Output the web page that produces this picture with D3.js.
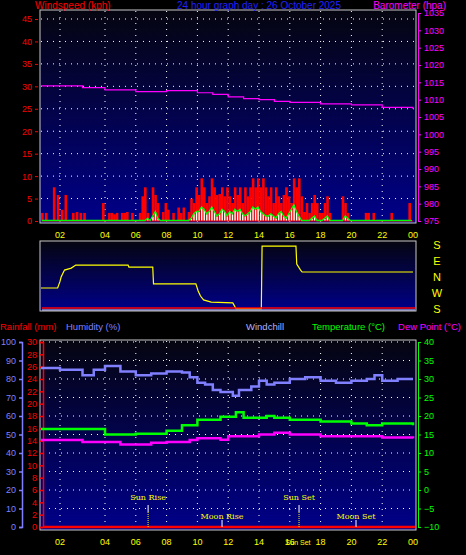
<!DOCTYPE html>
<html><head><meta charset="utf-8">
<script src="https://cdn.jsdelivr.net/npm/d3@7"></script>
<style>body{margin:0;background:#000}svg{display:block;font-family:"Liberation Sans",sans-serif}</style>
</head><body><svg id="c" width="466" height="555"></svg>
<script>
// hour ticks along the bottom
const tickHours = [2,4,6,8,10,12,14,16,18,20,22,24]
const tickLabels = ["02","04","06","08","10","12","14","16","18","20","22","00"]

// wind, 10 minute samples from 01:12
const gust = [1.8,1.8,0,7.5,5.8,
  2.5,5.8,0,1.8,2,1.8,1.8,0,0,0,0,4,
  0,1.8,1.8,1.5,1.8,0,1.8,1.8,2,0,1.8,0,
  0,1.8,5.5,7.5,1.8,0,7.5,5.8,4,0,2,4,
  2.5,0,1.8,0,3,1.8,3,0,2,5,4,7.5,
  5.8,9.5,7.5,4,5.5,9.5,7.5,5.8,6,7.5,5.5,7.5,
  5.5,4,7.5,5.8,7.5,4,7.5,5.5,7.5,9.5,7.5,9.5,
  7.5,9.5,7.5,5.5,7.5,4,7.5,5.5,4,5.8,7.5,5.5,
  4,9.5,7.5,9.5,5.5,2,4,1.8,4,5.8,4,1.8,
  1.8,4,5.5,1.8,0,0,0,0,5.5,4,1.8,0,
  0,0,0,0,0,1.8,1.8,0,1.8,0,0,0,
  0,0,0,1.8,0,0,0,0,0,0,4,0]
const avgSpeed = [0,0,0,0,0,
  0,0,0,0,0,0,0,0,0,0,0,0,
  0,0,0,0,0,0,0,0,0,0,0,0,
  0,0,0,0,0.5,0,1,2,0.5,0,0,0,
  0,0,0,0,0,0,0,0,0,0.5,1.5,2,
  2,3,2.5,1.5,2,3,2,1,1.5,2.5,2,1,
  2,1.5,2.5,2,2.5,1.5,1,1.5,2,3,2.5,3,
  2,1.5,1,1,1.5,1,0.5,1.5,2,1,0.5,1.5,
  2.5,3.5,2,1,0,0,0,0,0.5,1,0,0,
  0,0.5,1,0,0,0,0,0,0,1,0.5,0,
  0,0,0,0,0,0,0,0,0,0,0,0,
  0,0,0,0,0,0,0,0,0,0,0,0]

const baroHours = [1.2,2,3,4,6,8,10,11,12,13,14,15,16,18,20,22,24]
const baro = [1014,1014,1013.5,1012.8,1012.3,1012.6,1012,1011.5,1010.8,1010.3,1010,1009.5,1009.2,1008.8,1008.5,1007.8,1007.3]

// wind direction, plotted on the S-E-N-W-S scale (180 .. -180)
const dirHours = [1.2,1.9,2.0,2.05,2.2,2.5,2.7,5.5,5.55,7.1,7.15,9.9,10.05,10.2,10.4,10.9,12.3,12.5,14.15,14.2,16.4,16.45,16.7,16.8,24]
const dirVals = [-62,-62,-25,0,39,50,67,67,56,56,-39,-39,-79,-107,-129,-141,-146,-178,-178,174,174,73,39,28,28]

const humHours = [1.2,2,3,3.5,4,5,6,7,8,9,9.5,10,10.5,11,11.5,12.3,12.7,13.5,14,14.5,15,16,17,18,19,20,21,21.5,22,23,24]
const humidity = [86,85,82,85,87,84,82,83,84,83.5,81,78,77,74,73,71,74,76,79,77,78,80,81,79,78,79,80,82,79,80,80]
const tempHours = [1.2,4,6,8,9,10,11.5,12.5,13,14.5,15,16,18,20,21,22,24]
const temperature = [16.5,15,15.2,16,17.5,19,19.8,21,19.5,20,19.5,19,18.5,18,17.5,18,17.5]
const dewHours = [1.2,3,5,6,7,8,9.5,10,11.5,12,14,15,16,18,20,22,24]
const dewPoint = [13.5,13,12.3,12.3,12.8,13,13.5,14,13.6,14.5,15,15.5,15,14.5,14.5,14.2,14]

const events = [["Sun Rise",6.8,0],["Moon Rise",11.6,1],["Sun Set",16.6,0],["Moon Set",20.3,1]]

const svg = d3.select("#c")
const x = d3.scaleLinear().domain([1.2,2,4,24]).range([41,60,105,413])
const sampleHour = i => 1.2 + i/6

const grad = svg.append("defs").append("linearGradient").attr("id","bg").attr("x1",0).attr("x2",0).attr("y1",0).attr("y2",1)
grad.append("stop").attr("offset","0%").attr("stop-color","#050510")
grad.append("stop").attr("offset","100%").attr("stop-color","#00008a")

function panel(top, bottom) {
  svg.append("rect").attr("x",40).attr("y",top).attr("width",376).attr("height",bottom-top)
    .attr("fill","url(#bg)").attr("stroke","#c8c8c8").attr("stroke-width",1)
}
function vgrid(top, bottom) {
  svg.append("g").selectAll("line").data(tickHours.slice(0,-1)).join("line")
    .attr("x1",d=>x(d)).attr("x2",d=>x(d)).attr("y1",top).attr("y2",bottom)
    .attr("stroke","#fff").attr("stroke-dasharray","1 5")
}
function xlabels(y) {
  svg.append("g").selectAll("text").data(tickHours).join("text")
    .attr("x",d=>x(d)).attr("y",y).attr("text-anchor","middle")
    .attr("fill","#ffff00").attr("font-size",9).text((d,i)=>tickLabels[i])
}
function styleAxis(g, col, w) {
  g.selectAll(".domain,line").attr("stroke",col).attr("stroke-width",w||1)
  g.selectAll("text").attr("fill",col).attr("font-size",9).attr("font-family","Liberation Sans")
}

// ---- top panel
panel(10,223)
const ws = d3.scaleLinear().domain([0,45]).range([221,19])
const bs = d3.scaleLinear().domain([975,1035]).range([221,13])
svg.append("g").selectAll("line").data(d3.range(5,50,5)).join("line")
  .attr("x1",41).attr("x2",415).attr("y1",d=>ws(d)).attr("y2",d=>ws(d))
  .attr("stroke","#fff").attr("stroke-dasharray","1 5")
vgrid(11,222)
svg.append("g").attr("transform","translate(38,0)")
  .call(d3.axisLeft(ws).tickValues(d3.range(0,50,5)).tickSize(3))
  .call(g=>{styleAxis(g,"red");g.select(".domain").remove()})
svg.append("g").attr("transform","translate(418,0)")
  .call(d3.axisRight(bs).tickValues(d3.range(975,1040,5)).tickFormat(d3.format("d")).tickSize(3))
  .call(g=>styleAxis(g,"#ff00ff"))
svg.append("g").selectAll("rect").data(gust).join("rect")
  .attr("x",(d,i)=>x(sampleHour(i))).attr("width",2.6)
  .attr("y",d=>ws(d)).attr("height",d=>ws(0)-ws(d)).attr("fill","red")
svg.append("g").selectAll("rect").data(avgSpeed).join("rect")
  .attr("x",(d,i)=>x(sampleHour(i))+0.5).attr("width",1.4)
  .attr("y",d=>ws(d)).attr("height",d=>ws(0)-ws(d)).attr("fill","#f0fff0")
svg.append("line").attr("x1",41).attr("x2",413).attr("y1",ws(0)).attr("y2",ws(0)).attr("stroke","red")
svg.append("path").datum(avgSpeed).attr("fill","none").attr("stroke","#00ff00").attr("stroke-width",1.3)
  .attr("d",d3.line().x((d,i)=>x(sampleHour(i))+1).y(d=>ws(d)-0.5))
svg.append("path").datum(baro).attr("fill","none").attr("stroke","#ff00ff").attr("stroke-width",1.2)
  .attr("d",d3.line().x((d,i)=>x(baroHours[i])).y(d=>bs(d)).curve(d3.curveStepAfter))
svg.append("text").attr("x",35).attr("y",9).attr("fill","red").attr("font-size",10).text("Windspeed (kph)")
svg.append("text").attr("x",259).attr("y",9).attr("text-anchor","middle").attr("fill","#2020ff").attr("font-size",10).text("24 hour graph day : 26 October 2025")
svg.append("text").attr("x",446).attr("y",9).attr("text-anchor","end").attr("fill","#ff00ff").attr("font-size",10).text("Barometer (hpa)")
xlabels(238)

// ---- wind direction panel
panel(241,311)
const ds = d3.scaleLinear().domain([180,-180]).range([245,309])
svg.append("path").datum(dirVals).attr("fill","none").attr("stroke","#ffff00").attr("stroke-width",1.2)
  .attr("d",d3.line().x((d,i)=>x(dirHours[i])).y(d=>ds(d)))
svg.append("line").attr("x1",42).attr("x2",415).attr("y1",308).attr("y2",308).attr("stroke","red").attr("stroke-width",1.5)
svg.append("line").attr("x1",42).attr("x2",415).attr("y1",310).attr("y2",310).attr("stroke","#ddd")
svg.append("g").selectAll("text").data(["S","E","N","W","S"]).join("text")
  .attr("x",437).attr("y",(d,i)=>ds(180-i*90)+4).attr("text-anchor","middle")
  .attr("fill","#ffff00").attr("font-size",11).text(d=>d)

// ---- bottom panel
svg.append("text").attr("x",0).attr("y",330).attr("fill","red").attr("font-size",9.5).text("Rainfall (mm)")
svg.append("text").attr("x",66).attr("y",330).attr("fill","#8080ff").attr("font-size",9.5).text("Humidity (%)")
svg.append("text").attr("x",246).attr("y",330).attr("fill","#b0b0ff").attr("font-size",9.5).text("Windchill")
svg.append("text").attr("x",312).attr("y",330).attr("fill","#00ff00").attr("font-size",9.5).text("Temperature (°C)")
svg.append("text").attr("x",461).attr("y",330).attr("text-anchor","end").attr("fill","#ff00ff").attr("font-size",9.5).text("Dew Point (°C)")
panel(340,530)
const hs = d3.scaleLinear().domain([0,100]).range([527,342])
const rs = d3.scaleLinear().domain([0,30]).range([527,342])
const ts = d3.scaleLinear().domain([-10,40]).range([527,342])
svg.append("g").selectAll("line").data(d3.range(10,110,10)).join("line")
  .attr("x1",43).attr("x2",415).attr("y1",d=>hs(d)).attr("y2",d=>hs(d))
  .attr("stroke","#fff").attr("stroke-dasharray","1 5")
vgrid(341,529)
svg.append("g").attr("transform","translate(22,0)")
  .call(d3.axisLeft(hs).tickValues(d3.range(0,110,10)).tickSize(3))
  .call(g=>styleAxis(g,"#8080ff",1.5))
svg.append("g").attr("transform","translate(43,0)")
  .call(d3.axisLeft(rs).tickValues(d3.range(0,32,2)).tickSize(3))
  .call(g=>styleAxis(g,"red",1.5))
svg.append("g").attr("transform","translate(418,0)")
  .call(d3.axisRight(ts).tickValues(d3.range(-10,45,5)).tickSize(3))
  .call(g=>styleAxis(g,"#00ff00"))
const stepLine = (hrs, sc) => d3.line().x((d,i)=>x(hrs[i])).y(d=>sc(d)).curve(d3.curveStepAfter)
svg.append("path").datum(humidity).attr("fill","none").attr("stroke","#8080ff").attr("stroke-width",2.5).attr("d",stepLine(humHours,hs))
svg.append("path").datum(temperature).attr("fill","none").attr("stroke","#00ff00").attr("stroke-width",2.5).attr("d",stepLine(tempHours,ts))
svg.append("path").datum(dewPoint).attr("fill","none").attr("stroke","#ff00ff").attr("stroke-width",2.5).attr("d",stepLine(dewHours,ts))
svg.append("line").attr("x1",44).attr("x2",415).attr("y1",rs(0)).attr("y2",rs(0)).attr("stroke","red").attr("stroke-width",2.5)
const ev = svg.append("g").selectAll("g").data(events).join("g")
ev.append("line").attr("x1",d=>x(d[1])).attr("x2",d=>x(d[1])).attr("y1",d=>d[2]?520:505).attr("y2",d=>d[2]?527:512)
  .attr("stroke","#fff").attr("stroke-width",1)
ev.filter(d=>!d[2]).append("line").attr("x1",d=>x(d[1])).attr("x2",d=>x(d[1])).attr("y1",512).attr("y2",527)
  .attr("stroke","#ffff00").attr("stroke-dasharray","1 1")
ev.append("text").attr("x",d=>x(d[1])).attr("y",d=>d[2]?519:500).attr("text-anchor","middle")
  .attr("fill","#ffff00").attr("font-size",8).attr("font-family","DejaVu Serif").text(d=>d[0])
xlabels(545)
svg.append("text").attr("x",x(16.6)-1).attr("y",545).attr("text-anchor","middle").attr("fill","#ffff00").attr("font-size",7).text("Sun Set")
</script></body></html>
